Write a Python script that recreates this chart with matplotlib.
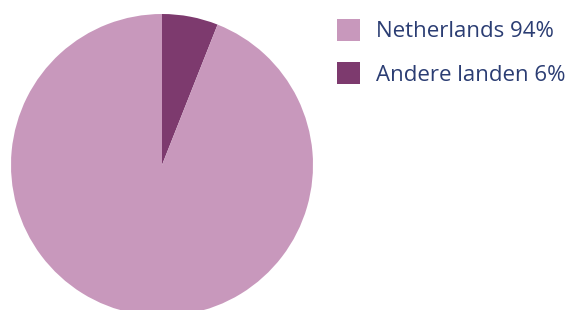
import matplotlib.pyplot as plt

labels = ["Netherlands 94%", "Andere landen 6%"]
shares = [94, 6]
colors = ["#c898bc", "#7d3a6e"]

W, H = 567, 310
fig = plt.figure(figsize=(W / 100, H / 100), dpi=100)

# pie centre (162, 165) px, radius 151 px
cx, cy, r = 162, 165, 151
ax = fig.add_axes([(cx - r) / W, 1 - (cy + r) / H, 2 * r / W, 2 * r / H])
ax.axis("off")

wedges, _ = ax.pie(shares[::-1], colors=colors[::-1], startangle=90,
                   counterclock=False, radius=1, frame=False)
ax.set_xlim(-1, 1)
ax.set_ylim(-1, 1)

leg = fig.legend(wedges[::-1], labels, loc="upper left",
                 bbox_to_anchor=(337 / W, 1 - 19 / H), frameon=False,
                 prop={"family": ["Open Sans", "DejaVu Sans"], "size": 16},
                 handlelength=1.05, handleheight=1.12, handletextpad=0.7,
                 labelspacing=0.9, borderaxespad=0, borderpad=0)
for t in leg.get_texts():
    t.set_color("#2b3d73")

fig.savefig("out.png", dpi=100)
